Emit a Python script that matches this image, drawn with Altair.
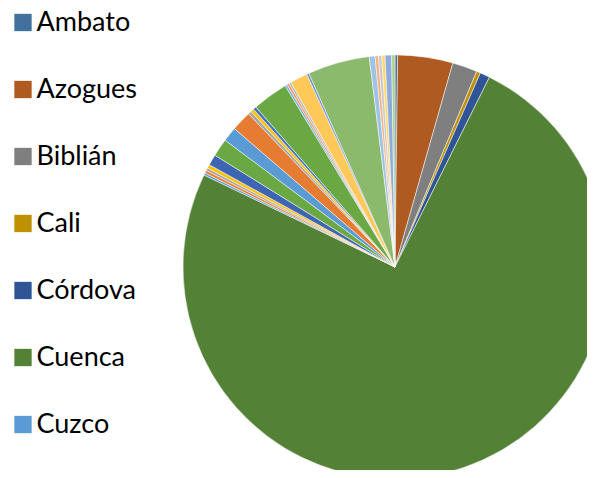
import altair as alt
import pandas as pd

cities = ["Ambato", "Azogues", "Biblián", "Cali", "Córdova", "Cuenca", "Cuzco",
          "Ciudad 8", "Ciudad 9", "Ciudad 10", "Ciudad 11", "Ciudad 12", "Ciudad 13",
          "Ciudad 14", "Ciudad 15", "Ciudad 16", "Ciudad 17", "Ciudad 18", "Ciudad 19",
          "Ciudad 20", "Ciudad 21", "Ciudad 22", "Ciudad 23", "Ciudad 24", "Ciudad 25",
          "Ciudad 26", "Ciudad 27", "Ciudad 28", "Ciudad 29", "Ciudad 30"]

shares = [0.2, 4.2, 1.9, 0.3, 0.75, 74.8, 0.17,
          0.22, 0.2, 0.28, 0.83, 1.36, 1.12,
          1.54, 0.25, 0.25, 0.25, 2.72, 0.17,
          0.17, 0.17, 1.33, 0.17, 4.72, 0.44,
          0.25, 0.25, 0.25, 0.5, 0.25]

colors = ["#41719C", "#AE5A21", "#7F7F7F", "#BF9000", "#2F5597", "#538135", "#5B9BD5",
          "#ED7D31", "#A5A5A5", "#FFC000", "#3E64B4", "#6AA843", "#5B9BD5",
          "#E67C32", "#A5A5A5", "#FFC000", "#4472C4", "#6AA843", "#7CAFDD",
          "#F1975A", "#B7B7B7", "#FFC95A", "#698ED0", "#8BBA6D", "#9DC3E6",
          "#F4B183", "#C9C9C9", "#FFD966", "#8FAADC", "#A9D18E"]

legend_shown = cities[:7]

df = pd.DataFrame({"ciudad": cities, "valor": shares, "orden": list(range(len(cities)))})

chart = alt.Chart(df).mark_arc(
    outerRadius=212, stroke="#FFFFFF", strokeWidth=0.5
).encode(
    theta=alt.Theta("valor:Q", stack=True),
    order=alt.Order("orden:Q", sort="ascending"),
    x=alt.value(387),
    y=alt.value(259),
    color=alt.Color(
        "ciudad:N",
        scale=alt.Scale(domain=cities, range=colors),
        sort=cities,
        legend=alt.Legend(
            title=None,
            values=legend_shown,
            orient="none",
            legendX=1.5,
            legendY=1,
            padding=0,
            symbolType="square",
            symbolSize=300,
            symbolStrokeWidth=0,
            labelFont="Lato",
            labelFontSize=27,
            labelColor="#000000",
            labelOffset=0,
            rowPadding=39,
            labelLimit=300,
        ),
    ),
).properties(
    width=579, height=462, padding=0, autosize=alt.AutoSizeParams(type="none"),
    background="#FFFFFF"
).configure_view(stroke=None)

chart.save("out.html", embed_options={"renderer": "svg", "actions": False})
